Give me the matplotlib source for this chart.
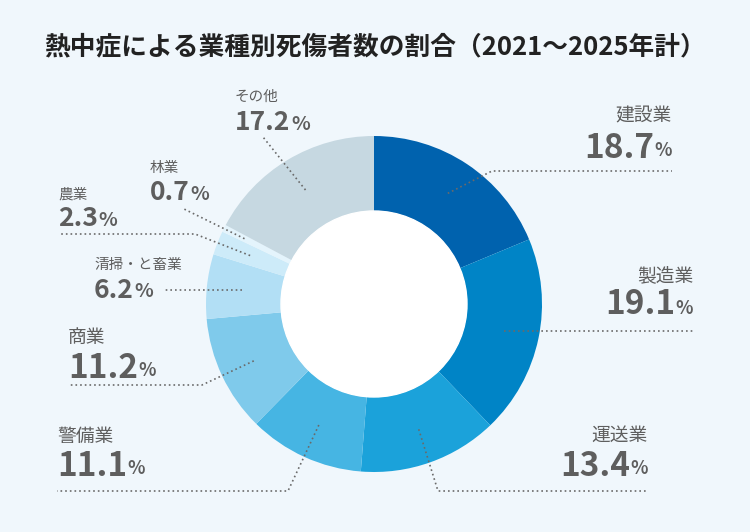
import matplotlib
matplotlib.use('Agg')
import matplotlib.pyplot as plt
import numpy as np

plt.rcParams['font.family'] = ['Noto Sans CJK JP', 'DejaVu Sans']

title = '熱中症による業種別死傷者数の割合（2021～2025年計）'
labels = ['建設業', '製造業', '運送業', '警備業', '商業', '清掃・と畜業', '農業', '林業', 'その他']
values = [18.7, 19.1, 13.4, 11.1, 11.2, 6.2, 2.3, 0.7, 17.2]
colors = ['#0062AE', '#0084C6', '#1BA2DA', '#46B5E3', '#7FCAEB', '#B2DFF5',
          '#CDEBF9', '#E4F4FC', '#C6D8E1']

bg = '#F0F7FC'
txt = '#5E5E5E'
cx, cy, R, r_in = 374, 304, 168, 93

fig = plt.figure(figsize=(7.5, 5.32), dpi=100, facecolor=bg)
ax = fig.add_axes([0, 0, 1, 1])
ax.set_facecolor(bg)

# y axis inverted so data coords = pixel coords; startangle -90 is the top
wedges, _ = ax.pie(values, colors=colors, startangle=-90, counterclock=True,
                   radius=R, center=(cx, cy),
                   wedgeprops=dict(width=R - r_in, edgecolor='none'))
ax.add_patch(plt.Circle((cx, cy), r_in, color='white', zorder=3))
ax.set_xlim(0, 750)
ax.set_ylim(532, 0)
ax.set_aspect('equal')
ax.axis('off')

ax.text(375, 47, title, ha='center', va='center', fontsize=18.5,
        fontweight='bold', color='#222222')

# layout: text x, align, name y, pct y, big?, path points after anchor
layout = {
    '建設業': (672, 'right', 116, 148, True, [(492, 171), (672, 171)]),
    '製造業': (693, 'right', 276, 305, True, [(693, None)]),
    '運送業': (648, 'right', 435, 466, True, [(438, 491), (648, 491)]),
    '警備業': (57, 'left', 436, 466, True, [(288, 491), (57, 491)]),
    '商業': (68, 'left', 337, 368, True, [(202, 385), (68, 385)]),
    '清掃・と畜業': (94, 'left', 265, 290, False, [(163, None)]),
    '農業': (58, 'left', 195, 219, False, [(195, 234), (60, 234)]),
    '林業': (150, 'left', 168, 193, False, [(182, 208)]),
    'その他': (235, 'left', 97, 123, False, [(263, 137)]),
}
anchor_r = {'林業': 145}

fig.canvas.draw()
renderer = fig.canvas.get_renderer()

for w, lab, val in zip(wedges, labels, values):
    x, ha, ny, py, big, path = layout[lab]
    mid = np.deg2rad((w.theta1 + w.theta2) / 2)
    rr = anchor_r.get(lab, 133)
    ax0, ay0 = cx + rr * np.cos(mid), cy + rr * np.sin(mid)
    xs, ys = [ax0], [ay0]
    for px, py_ in path:
        xs.append(px)
        ys.append(ay0 if py_ is None else py_)
    ax.plot(xs, ys, color='#6A6A6A', lw=1.2, ls=(0, (1, 1.8)), zorder=4)

    nfs, pfs, sfs = (13.5, 24, 13) if big else (10.5, 19, 14)
    ax.text(x, ny, lab, ha=ha, va='center', fontsize=nfs, color=txt)
    num = f'{val:.1f}'
    if ha == 'left':
        t = ax.text(x, py, num, ha='left', va='center', fontsize=pfs,
                    fontweight='bold', color=txt)
        bb = t.get_window_extent(renderer)
        ax.text(x + bb.width + 0.5, py + (3 if big else 1.5), '%',
                ha='left', va='center', fontsize=sfs, fontweight='bold', color=txt)
    else:
        s = ax.text(x, py + 3, '%', ha='right', va='center', fontsize=sfs,
                    fontweight='bold', color=txt)
        bb = s.get_window_extent(renderer)
        ax.text(x - bb.width - 0.5, py, num, ha='right', va='center',
                fontsize=pfs, fontweight='bold', color=txt)

fig.savefig('out.png', dpi=100, facecolor=bg)
